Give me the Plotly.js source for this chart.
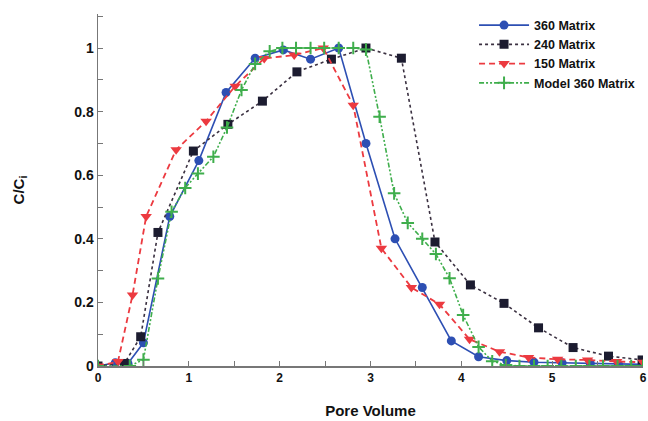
<!DOCTYPE html>
<html><head><meta charset="utf-8">
<script src="https://cdn.plot.ly/plotly-3.0.1.min.js"></script>
<style>body{margin:0;background:#fff}#plot{width:648px;height:421px}</style>
</head><body><div id="plot"></div>
<script>
const names = ["360 Matrix", "240 Matrix", "150 Matrix", "Model 360 Matrix"];

const x360 = [0, 0.19, 0.33, 0.50, 0.79, 1.11, 1.41, 1.73, 2.04, 2.34, 2.65, 2.95, 3.27, 3.57, 3.89, 4.19, 4.50, 4.80, 5.11, 5.42, 5.73, 6.0];
const y360 = [0, 0.010, 0.008, 0.073, 0.47, 0.646, 0.86, 0.968, 0.994, 0.965, 1.0, 0.70, 0.40, 0.247, 0.079, 0.029, 0.017, 0.012, 0.010, 0.008, 0.006, 0.005];

const x240 = [0, 0.29, 0.47, 0.66, 1.05, 1.43, 1.81, 2.19, 2.57, 2.95, 3.34, 3.71, 4.10, 4.47, 4.85, 5.23, 5.62, 5.99];
const y240 = [0, 0.008, 0.092, 0.42, 0.676, 0.76, 0.833, 0.925, 0.965, 1.0, 0.968, 0.39, 0.255, 0.197, 0.12, 0.058, 0.031, 0.019];

const x150 = [0, 0.22, 0.38, 0.53, 0.86, 1.19, 1.51, 1.83, 2.16, 2.48, 2.81, 3.12, 3.45, 3.76, 4.09, 4.42, 4.74, 5.06, 5.39, 5.71, 6.0];
const y150 = [0, 0.014, 0.223, 0.47, 0.68, 0.77, 0.88, 0.967, 0.978, 1.0, 0.82, 0.37, 0.247, 0.194, 0.084, 0.045, 0.027, 0.021, 0.019, 0.014, 0.012];

const xModel = [0, 0.35, 0.50, 0.66, 0.81, 0.96, 1.10, 1.27, 1.42, 1.58, 1.73, 1.89, 2.03, 2.18, 2.34, 2.49, 2.65, 2.81, 2.95, 3.10, 3.26, 3.41, 3.57, 3.72, 3.87, 4.02, 4.19, 4.34, 4.49, 4.64, 4.80, 4.95, 5.10, 5.26, 5.41, 5.56, 5.72, 5.87, 6.0];
const yModel = [0, 0, 0.02, 0.275, 0.485, 0.56, 0.605, 0.658, 0.75, 0.868, 0.95, 0.99, 1.0, 1.0, 1.0, 1.0, 1.0, 1.0, 0.995, 0.784, 0.543, 0.45, 0.40, 0.352, 0.276, 0.16, 0.06, 0.015, 0.003, 0, 0, 0, 0, 0, 0, 0, 0, 0, 0];

const xTicks = [0, 1, 2, 3, 4, 5, 6];
const yTicks = [0, 0.2, 0.4, 0.6, 0.8, 1];

const traces = [
  {x: x360, y: y360, name: names[0], mode: "lines+markers",
   line: {color: "#2d4fb3", width: 1.6},
   marker: {symbol: "circle", size: 9, color: "#2d4fb3"}},
  {x: x240, y: y240, name: names[1], mode: "lines+markers",
   line: {color: "#3a3040", width: 1.6, dash: "dot"},
   marker: {symbol: "square", size: 9, color: "#1c1c30"}},
  {x: x150, y: y150, name: names[2], mode: "lines+markers",
   line: {color: "#ec3a40", width: 1.8, dash: "6px,4px"},
   marker: {symbol: "triangle-down", size: 10, color: "#ec3a40"}},
  {x: xModel, y: yModel, name: names[3], mode: "lines+markers",
   line: {color: "#3fae4c", width: 1.6, dash: "5px,2px,2px,2px,2px,2px"},
   marker: {symbol: "cross-thin", size: 9, line: {color: "#3fae4c", width: 2}, color: "#3fae4c"}}
];

const layout = {
  width: 648, height: 421,
  margin: {l: 98, r: 5, t: 14, b: 55},
  paper_bgcolor: "#fff", plot_bgcolor: "#fff",
  font: {family: "Liberation Sans, Arial, sans-serif", color: "#111"},
  showlegend: true,
  legend: {x: 0.69, y: 1.01, xanchor: "left", yanchor: "top", bgcolor: "rgba(0,0,0,0)",
           itemwidth: 50,
           font: {size: 12.5, weight: "bold"}, tracegroupgap: 0},
  xaxis: {range: [0, 6], tickvals: xTicks, ticktext: xTicks.map(String),
          ticks: "inside", ticklen: 5, tickcolor: "#777", showline: true, linecolor: "#777", linewidth: 1.5,
          showgrid: false, zeroline: false, tickfont: {size: 12, weight: "bold"},
          minor: {dtick: 0.5, ticks: "inside", ticklen: 5, tickcolor: "#777", showgrid: false},
          title: {text: "Pore Volume", font: {size: 15, weight: "bold"}, standoff: 21}},
  yaxis: {range: [0, 1.107], tickvals: yTicks, ticktext: yTicks.map(String),
          ticks: "inside", ticklen: 5, tickcolor: "#777", showline: true, linecolor: "#777", linewidth: 1.5,
          showgrid: false, zeroline: false, tickfont: {size: 14, weight: "bold"},
          minor: {dtick: 0.1, ticks: "inside", ticklen: 5, tickcolor: "#777", showgrid: false},
          title: {text: "C/C<sub>i</sub>", font: {size: 15, weight: "bold"}, standoff: 46}}
};

Plotly.newPlot("plot", traces, layout, {displayModeBar: false, staticPlot: true});
</script></body></html>
